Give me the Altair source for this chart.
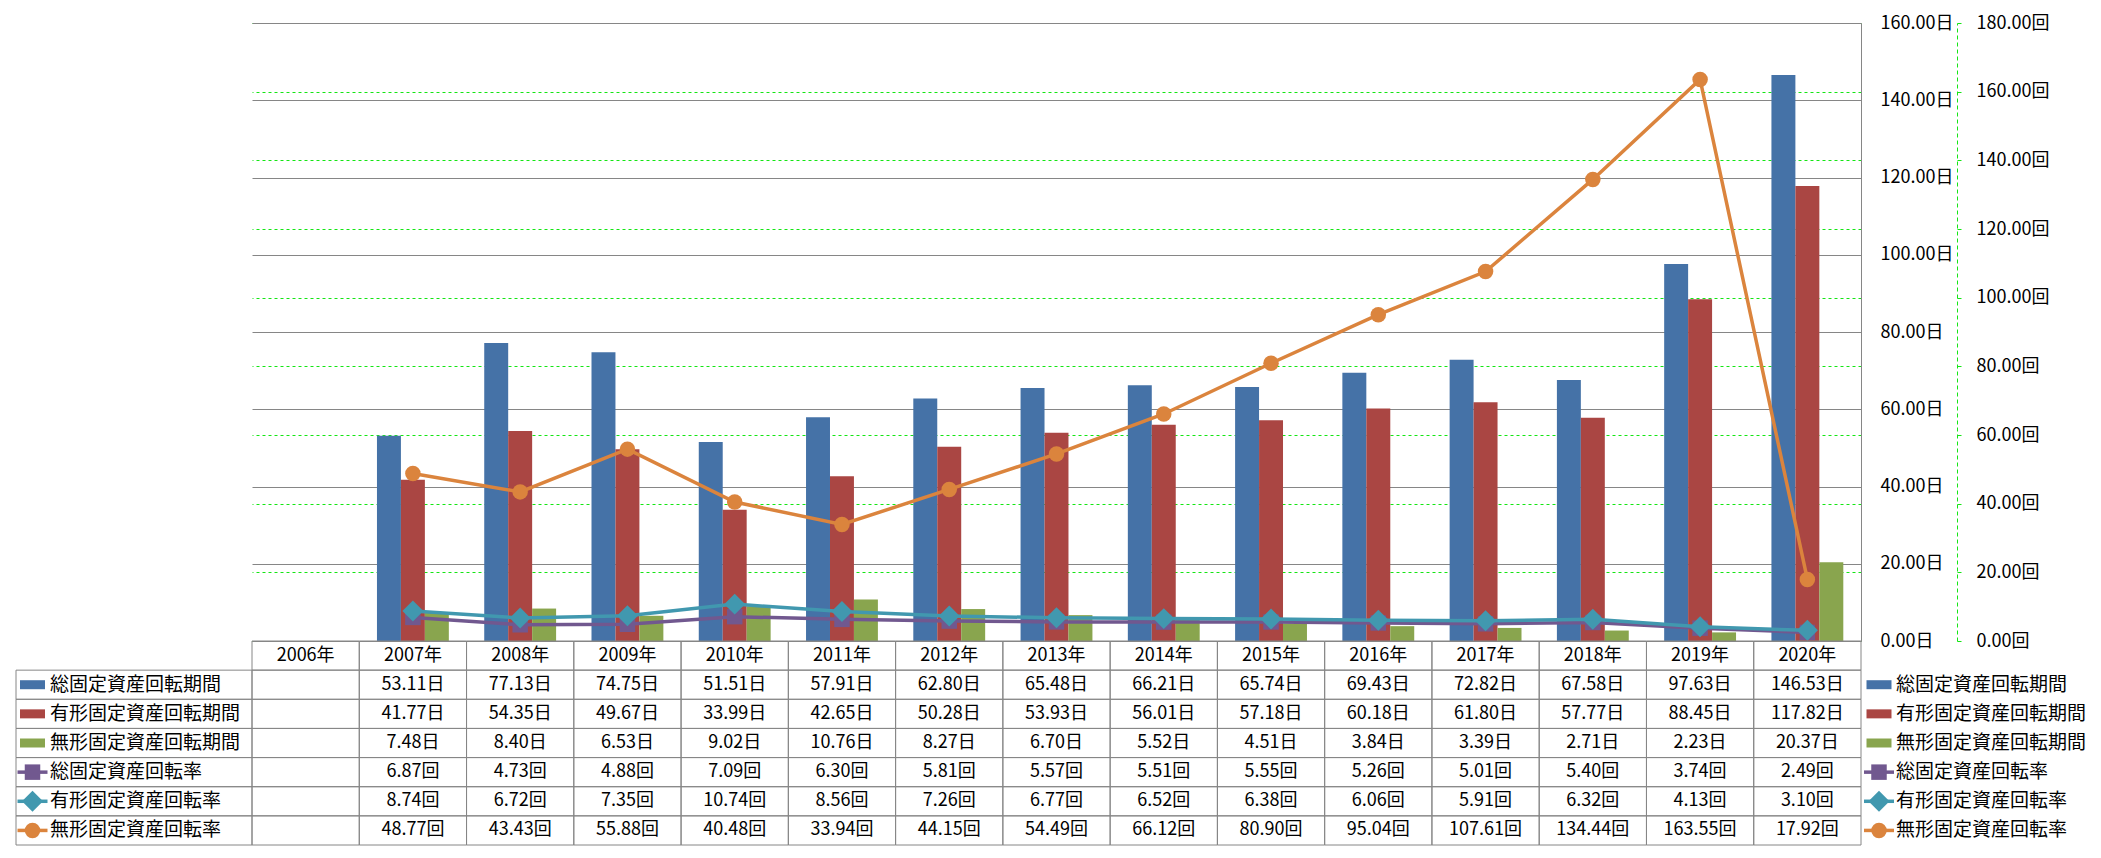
import altair as alt
import pandas as pd

FONT = "Noto Sans CJK JP"

years = [f"{y}年" for y in range(2006, 2021)]
series_names = ["総固定資産回転期間", "有形固定資産回転期間", "無形固定資産回転期間",
                "総固定資産回転率", "有形固定資産回転率", "無形固定資産回転率"]
series_colors = ["#4572A7", "#AA4643", "#89A54E", "#71588F", "#4198AF", "#DB843D"]
series_units = ["日", "日", "日", "回", "回", "回"]

total_period = [None, 53.11, 77.13, 74.75, 51.51, 57.91, 62.80, 65.48, 66.21, 65.74, 69.43, 72.82, 67.58, 97.63, 146.53]
tangible_period = [None, 41.77, 54.35, 49.67, 33.99, 42.65, 50.28, 53.93, 56.01, 57.18, 60.18, 61.80, 57.77, 88.45, 117.82]
intangible_period = [None, 7.48, 8.40, 6.53, 9.02, 10.76, 8.27, 6.70, 5.52, 4.51, 3.84, 3.39, 2.71, 2.23, 20.37]
total_rate = [None, 6.87, 4.73, 4.88, 7.09, 6.30, 5.81, 5.57, 5.51, 5.55, 5.26, 5.01, 5.40, 3.74, 2.49]
tangible_rate = [None, 8.74, 6.72, 7.35, 10.74, 8.56, 7.26, 6.77, 6.52, 6.38, 6.06, 5.91, 6.32, 4.13, 3.10]
intangible_rate = [None, 48.77, 43.43, 55.88, 40.48, 33.94, 44.15, 54.49, 66.12, 80.90, 95.04, 107.61, 134.44, 163.55, 17.92]

all_values = [total_period, tangible_period, intangible_period, total_rate, tangible_rate, intangible_rate]

day_ticks = list(range(0, 161, 20))
rate_ticks = list(range(0, 181, 20))

TOP_PAD = 15
PLOT_H = 618
TABLE_BOTTOM = PLOT_H + 204

# ---------- data frames ----------
rows = []
for name, vals in zip(series_names, all_values):
    for y, v in zip(years, vals):
        if v is not None:
            rows.append({"year": y, "series": name, "value": v})
long_df = pd.DataFrame(rows)
bar_df = long_df[long_df.series.isin(series_names[:3])]

row_ids = ["header"] + series_names
cells = []
for y in years:
    cells.append({"row": "header", "year": y, "text": y})
for name, vals, unit in zip(series_names, all_values, series_units):
    for y, v in zip(years, vals):
        cells.append({"row": name, "year": y, "text": "" if v is None else f"{v:.2f}{unit}"})
cell_df = pd.DataFrame(cells)
label_df = pd.DataFrame({"row": series_names, "text": series_names})

color_scale = alt.Scale(domain=series_names, range=series_colors)

GRAY = "#868686"
GREEN = "#14e614"

# ---------- chart parts ----------
bars = alt.Chart(bar_df).mark_bar().encode(
    x=alt.X("year:N", scale=alt.Scale(domain=years, paddingInner=0.33, paddingOuter=0.165), axis=None),
    xOffset=alt.XOffset("series:N", scale=alt.Scale(domain=series_names[:3], paddingInner=0, paddingOuter=0)),
    y=alt.Y("value:Q", scale=alt.Scale(domain=[0, 160], nice=False), axis=None),
    color=alt.Color("series:N", scale=color_scale, legend=None),
)

# days axis carried by an invisible layer placed after the rate axis so its gray grid lies on top
day_axis_layer = alt.Chart(bar_df).mark_tick(opacity=0).encode(
    y=alt.Y("value:Q", scale=alt.Scale(domain=[0, 160], nice=False),
            axis=alt.Axis(orient="right", values=day_ticks, title=None,
                          labelExpr="format(datum.value, '.2f') + '日'",
                          grid=True, gridColor=GRAY, gridWidth=1,
                          ticks=False, tickSize=0, domain=True, domainColor=GRAY, domainWidth=1,
                          labelPadding=19, labelAlign="left", labelFont=FONT, labelFontSize=18,
                          labelColor="#000000")),
)

rate_x = alt.X("year:N", scale=alt.Scale(domain=years), axis=None)
marker_shapes = ["square", "diamond", "circle"]
marker_sizes = [240, 440, 240]

rate_axis_layer = alt.Chart(long_df[long_df.series.isin(series_names[3:])]).mark_tick(opacity=0).encode(
    y=alt.Y("value:Q", scale=alt.Scale(domain=[0, 180], nice=False),
            axis=alt.Axis(orient="right", values=rate_ticks, title=None, offset=96,
                          labelExpr="format(datum.value, '.2f') + '回'",
                          grid=True, gridColor=GREEN, gridDash=[3, 3], gridWidth=1,
                          ticks=True, tickSize=4, tickColor=GREEN, tickWidth=1,
                          domain=True, domainColor=GREEN, domainDash=[4, 3], domainWidth=1,
                          labelPadding=15, labelAlign="left", labelFont=FONT, labelFontSize=18,
                          labelColor="#000000")),
)

line_layers = []
for i, (name, shape, size) in enumerate(zip(series_names[3:], marker_shapes, marker_sizes)):
    d = long_df[long_df.series == name]
    col = series_colors[3 + i]
    yenc = alt.Y("value:Q", scale=alt.Scale(domain=[0, 180], nice=False), axis=None)
    line_layers.append(alt.Chart(d).mark_line(color=col, strokeWidth=3.5).encode(x=rate_x, y=yenc))
    line_layers.append(alt.Chart(d).mark_point(shape=shape, size=size, filled=True, opacity=1, color=col).encode(
        x=rate_x, y=yenc))

# ---------- data table ----------
row_y = alt.Y("row:N", scale=alt.Scale(domain=row_ids, range=[PLOT_H, TABLE_BOTTOM], paddingInner=0, paddingOuter=0), axis=None)
tab_x = alt.X("year:N", scale=alt.Scale(domain=years, paddingInner=0, paddingOuter=0), axis=None)

table_cells = alt.Chart(cell_df).mark_rect(fillOpacity=0, stroke=GRAY, strokeWidth=1).encode(x=tab_x, y=row_y)
table_text = alt.Chart(cell_df).mark_text(font=FONT, fontSize=18, color="#000000", baseline="middle", align="center").encode(
    x=tab_x, y=row_y, text="text:N")

label_cells = alt.Chart(label_df).mark_rect(fillOpacity=0, stroke=GRAY, strokeWidth=1).encode(
    x=alt.value(-236), x2=alt.value(0), y=row_y)

swatch_layers = []
for cx, tx in [(-219.5, -202), (1627, 1644)]:
    bar_lab = label_df[label_df.row.isin(series_names[:3])]
    swatch_layers.append(alt.Chart(bar_lab).mark_tick(orient="vertical", thickness=25, size=9, opacity=1).encode(
        x=alt.value(cx), y=row_y, color=alt.Color("row:N", scale=color_scale, legend=None)))
    for i, (name, shape, size) in enumerate(zip(series_names[3:], marker_shapes, marker_sizes)):
        d = label_df[label_df.row == name]
        col = series_colors[3 + i]
        swatch_layers.append(alt.Chart(d).mark_tick(orient="vertical", thickness=30, size=3.5, opacity=1, color=col).encode(
            x=alt.value(cx), y=row_y))
        swatch_layers.append(alt.Chart(d).mark_point(shape=shape, size=size, filled=True, opacity=1, color=col).encode(
            x=alt.value(cx), y=row_y))
    swatch_layers.append(alt.Chart(label_df).mark_text(font=FONT, fontSize=19, color="#000000", align="left", baseline="middle").encode(
        x=alt.value(tx), y=row_y, text="text:N"))

chart = alt.layer(
    rate_axis_layer, day_axis_layer, bars, *line_layers, table_cells, label_cells, table_text, *swatch_layers
).resolve_scale(
    x="independent", y="independent"
).properties(
    width=1609, height=PLOT_H,
    autosize=alt.AutoSizeParams(type="none"),
    padding={"left": 244, "top": TOP_PAD, "right": 227, "bottom": 838 - TOP_PAD - PLOT_H},
).configure(
    font=FONT,
).configure_view(
    stroke=None,
)

chart.save("out.html", embed_options={"renderer": "svg", "actions": False})
